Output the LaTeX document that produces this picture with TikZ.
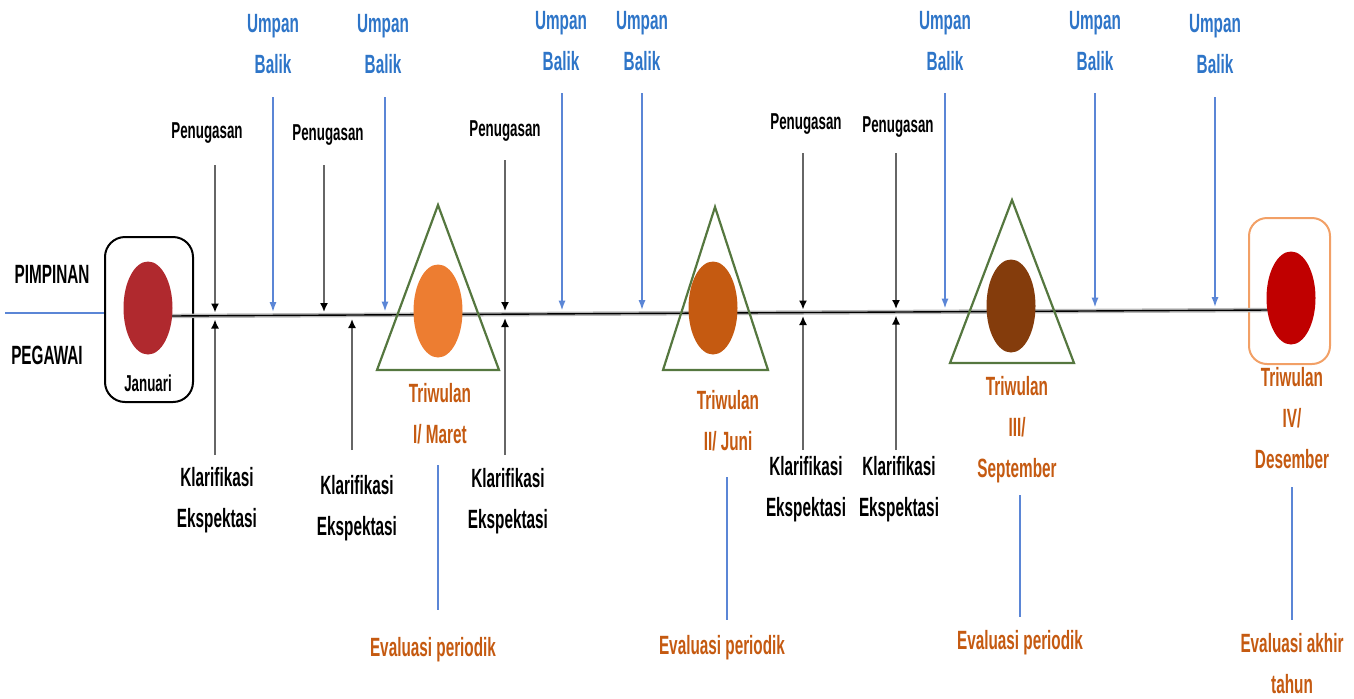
\documentclass[tikz,border=0pt]{standalone}
\usepackage{fontspec}
\setmainfont{Liberation Sans}[FakeStretch=0.58]
\usetikzlibrary{arrows.meta,shapes.geometric}

\definecolor{ubtext}{HTML}{2E75C8}
\definecolor{ubline}{HTML}{5B86D6}
\definecolor{orangetext}{HTML}{C55A11}
\definecolor{trigreen}{HTML}{55773F}
\definecolor{janred}{HTML}{B0292E}
\definecolor{q1}{HTML}{ED7D31}
\definecolor{q2}{HTML}{C55A11}
\definecolor{q3}{HTML}{843C0C}
\definecolor{q4}{HTML}{C00000}
\definecolor{decbox}{HTML}{F2A066}

\begin{document}
\begin{tikzpicture}[x=0.5pt,y=-0.5pt,
  big/.style={font=\fontsize{13.2}{20.5}\selectfont\bfseries, align=center, inner sep=0pt},
  small/.style={font=\fontsize{11.5}{14}\selectfont\bfseries, align=center, inner sep=0pt},
  umpan/.style={big, text=ubtext},
  triw/.style={big, text=orangetext},
  dot/.style={ellipse, minimum width=24.5pt, minimum height=46.5pt, inner sep=0pt},
  fb/.style={draw=ubline, line width=0.8pt, -{Latex[length=5pt,width=3.6pt]}},
  task/.style={draw=black!60, line width=0.8pt, -{Latex[length=4.5pt,width=4pt,color=black]}},
  trig/.style={draw=trigreen, line width=1.1pt, line join=miter},
  evline/.style={draw=ubline, line width=0.8pt}]
\useasboundingbox (0,0) rectangle (1354,698);

% side labels and the lead-in line
\node[big] (pim) at (52,274) {PIMPINAN};
\node[big] (peg) at (47,355) {PEGAWAI};
\coordinate (lead) at (5,313);
\coordinate (leadend) at (105,313);
\draw[draw=ubline, line width=1pt] (lead) -- (leadend);

% start and end boxes
\node[draw=black, line width=1pt, rounded corners=10pt, minimum width=44pt, minimum height=82.5pt, inner sep=0pt] (jbox) at (149,319.5) {};
\node[draw=decbox, line width=1pt, rounded corners=9pt, minimum width=40.5pt, minimum height=73pt, inner sep=0pt] (dbox) at (1289.5,291) {};

% time line
\coordinate (L0) at (170,316);
\coordinate (L1) at (1268,310);
\draw[draw=gray!55, line width=2.2pt] (L0) -- (L1);
\draw[draw=black, line width=0.7pt] (L0) -- (L1);

% quarter triangles
\draw[trig] (438,205) -- (377,370) -- (499,370) -- cycle;
\draw[trig] (715,207) -- (663,370) -- (768,370) -- cycle;
\draw[trig] (1012,200) -- (950,363) -- (1074,363) -- cycle;

% milestone dots
\node[dot, fill=janred] (c0) at (148,308) {};
\node[dot, fill=q1] (c1) at (438,311) {};
\node[dot, fill=q2] (c2) at (713,308) {};
\node[dot, fill=q3] (c3) at (1011,306) {};
\node[dot, fill=q4] (c4) at (1291,298) {};

\node[small] (jan) at (148,383) {Januari};

% feedback arrows
\node[umpan] (ub1) at (273,44) {Umpan\\Balik};
\node[umpan] (ub2) at (383,44) {Umpan\\Balik};
\node[umpan] (ub3) at (561,41) {Umpan\\Balik};
\node[umpan] (ub4) at (642,41) {Umpan\\Balik};
\node[umpan] (ub5) at (945,41) {Umpan\\Balik};
\node[umpan] (ub6) at (1095,41) {Umpan\\Balik};
\node[umpan] (ub7) at (1215,44) {Umpan\\Balik};
\foreach \i/\x/\ys/\ye in {1/273/97/312, 2/385/97/311.5, 3/562/93/310.5, 4/642/93/310,
                           5/945/93/308.5, 6/1095/93/307.5, 7/1215/97/307}{
  \coordinate (fbs\i) at (\x,\ys);
  \coordinate (fbe\i) at (\x,\ye);
  \draw[fb] (fbs\i) -- (fbe\i);
}

% assignment arrows
\node[small] (pg1) at (207,133) {Penugasan};
\node[small] (pg2) at (328,135) {Penugasan};
\node[small] (pg3) at (505,131) {Penugasan};
\node[small] (pg4) at (806,124) {Penugasan};
\node[small] (pg5) at (898,127) {Penugasan};
\foreach \i/\x/\ys/\ye in {1/215/165/312.5, 2/324/165/312, 3/505/160/311,
                           4/803/153/309.5, 5/896/153/309}{
  \coordinate (pgs\i) at (\x,\ys);
  \coordinate (pge\i) at (\x,\ye);
  \draw[task] (pgs\i) -- (pge\i);
}

% expectation arrows
\node[big] (kl1) at (217,500) {Klarifikasi\\Ekspektasi};
\node[big] (kl2) at (357,508) {Klarifikasi\\Ekspektasi};
\node[big] (kl3) at (508,501) {Klarifikasi\\Ekspektasi};
\node[big] (kl4) at (806,489) {Klarifikasi\\Ekspektasi};
\node[big] (kl5) at (899,489) {Klarifikasi\\Ekspektasi};
\foreach \i/\x/\ys/\ye in {1/215/455/319.5, 2/352/450/319, 3/505/455/318,
                           4/803/450/316, 5/896/450/315.5}{
  \coordinate (kls\i) at (\x,\ys);
  \coordinate (kle\i) at (\x,\ye);
  \draw[task] (kls\i) -- (kle\i);
}

% quarter labels and evaluations
\node[triw] (tw1) at (440,414) {Triwulan\\I/ Maret};
\node[triw] (tw2) at (728,421) {Triwulan\\II/ Juni};
\node[triw] (tw3) at (1017,430) {Triwulan\\III/\\September};
\node[triw] (tw4) at (1292,418) {Triwulan\\IV/\\Desember};

\node[triw] (ev1) at (433,650) {Evaluasi periodik};
\node[triw] (ev2) at (722,648) {Evaluasi periodik};
\node[triw] (ev3) at (1020,643) {Evaluasi periodik};
\node[triw] (ev4) at (1292,664) {Evaluasi akhir\\tahun};

\foreach \i/\x/\ys/\ye in {1/438/465/610, 2/727/477/620, 3/1020/495/617, 4/1292/487/620}{
  \coordinate (evs\i) at (\x,\ys);
  \coordinate (eve\i) at (\x,\ye);
  \draw[evline] (evs\i) -- (eve\i);
}
\end{tikzpicture}
\end{document}
